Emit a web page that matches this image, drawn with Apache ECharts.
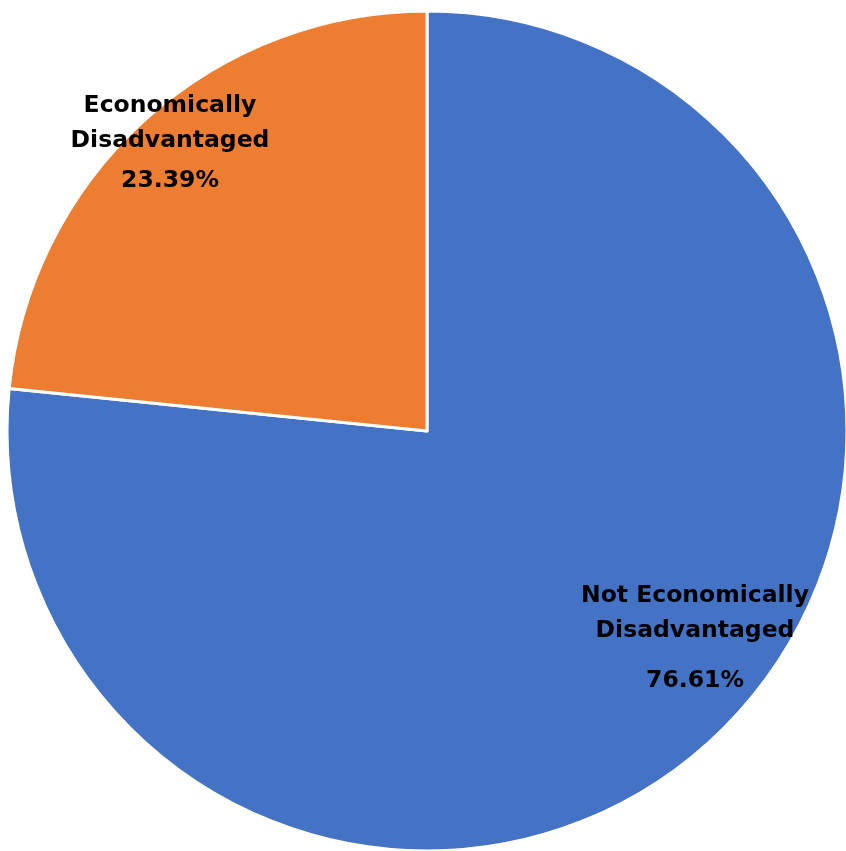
<!DOCTYPE html>
<html>
<head>
<meta charset="utf-8">
<script src="https://cdn.jsdelivr.net/npm/echarts@6/dist/echarts.min.js"></script>
<style>html,body{margin:0;padding:0;background:#fff;}#c{width:846px;height:851px;}</style>
</head>
<body>
<div id="c"></div>
<script>
const categories = ["Not Economically\nDisadvantaged", "Economically\nDisadvantaged"];
const values = [76.61, 23.39];
const colors = ["#4472C4", "#ED7D31"];
const labelPos = [[695, 646], [170, 146]];
const valueLineHeights = [65, 45];

const chart = echarts.init(document.getElementById('c'), null, {renderer: 'canvas'});
const font = {fontFamily: 'DejaVu Sans', fontWeight: 'bold', fontSize: 23.5, color: '#000', align: 'center'};
chart.setOption({
  animation: false,
  series: [{
    type: 'pie',
    center: [427, 431],
    radius: [0, 420],
    startAngle: 90,
    clockwise: true,
    data: categories.map((c, i) => ({
      name: c, value: values[i], itemStyle: {color: colors[i]},
      label: {rich: {
        n: Object.assign({lineHeight: 35}, font),
        v: Object.assign({lineHeight: valueLineHeights[i]}, font)
      }}
    })),
    itemStyle: {borderColor: '#fff', borderWidth: 3},
    label: {
      show: true,
      position: 'inside',
      formatter: p => '{n|' + p.name.split('\n').join('}\n{n|') + '}\n{v|' + p.value.toFixed(2) + '%}'
    },
    labelLine: {show: false},
    labelLayout: p => ({x: labelPos[p.dataIndex][0], y: labelPos[p.dataIndex][1], align: 'center', verticalAlign: 'middle'})
  }]
});
</script>
</body>
</html>
